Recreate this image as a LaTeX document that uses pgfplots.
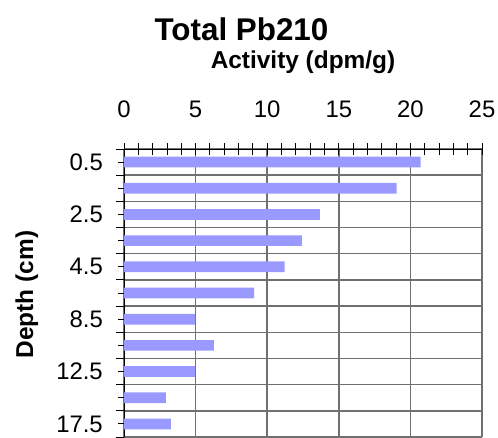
\documentclass[border=0pt]{standalone}
\usepackage{fontspec}
\setmainfont{Liberation Sans}
\usepackage{pgfplots}
\pgfplotsset{compat=1.18}
\definecolor{barblue}{HTML}{9999FF}
\definecolor{gridgray}{HTML}{707070}

\begin{document}
\begin{tikzpicture}
\begin{axis}[
  at={(124bp,-149bp)},anchor=north west,
  scale only axis,width=358bp,height=288bp,
  xmin=0,xmax=25,ymin=-0.5,ymax=10.5,y dir=reverse,
  axis x line*=top,axis y line*=left,
  axis line style={black,line width=1bp},
  tick style={black,line width=0.9bp},
  tick align=center,major tick length=12bp,minor tick length=12bp,
  xtick={0,5,...,25},minor x tick num=4,
  xmajorgrids,
  ytick={0,...,10},yticklabels={0.5,,2.5,,4.5,,8.5,,12.5,,17.5},
  minor ytick={-0.5,0.5,...,10.5},yminorgrids,
  major grid style={draw=gridgray,line width=1.5bp},
  minor grid style={draw=gridgray,line width=1.5bp},
  minor y tick style={draw=none},
  extra y ticks={-0.5,0.5,...,10.5},extra y tick labels={},
  extra y tick style={tick align=outside,major tick length=8bp},
  /pgf/number format/assume math mode=true,
  tick label style={font=\fontsize{24}{28}\selectfont},
  xticklabel style={anchor=base,inner sep=0pt,yshift=26bp},
  yticklabel style={anchor=east,inner sep=0pt,xshift=-15bp}]
\addplot[xbar,bar width=10.7bp,fill=barblue,draw=none] coordinates {
(20.72,0) (19.04,1) (13.67,2) (12.43,3) (11.22,4) (9.08,5)
(4.96,6) (6.28,7) (4.96,8) (2.93,9) (3.28,10)};
\end{axis}
\node[font=\bfseries\fontsize{31.5}{36}\selectfont,anchor=base] at (241.5bp,-40bp) {Total Pb210};
\node[font=\bfseries\fontsize{24.5}{28}\selectfont,anchor=base] at (303bp,-68.3bp) {Activity (dpm/g)};
\node[font=\bfseries\fontsize{24.5}{28}\selectfont,anchor=base,rotate=90] at (33bp,-294.5bp) {Depth (cm)};
\path (0,0) rectangle (498bp,-437bp);
\end{tikzpicture}
\end{document}
